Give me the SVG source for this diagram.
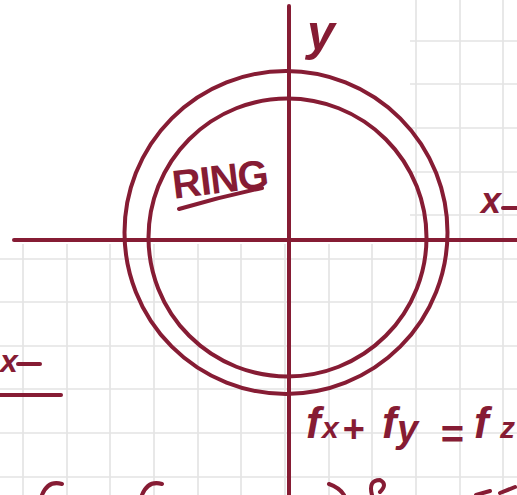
<svg xmlns="http://www.w3.org/2000/svg" width="517" height="495" viewBox="0 0 517 495">
<style>
.g{stroke:#e3e3e3;stroke-width:1.6;fill:none}
.ink{stroke:#861c34;stroke-width:4;fill:none;stroke-linecap:round;stroke-linejoin:round}
.t{fill:#861c34;font-family:"Liberation Sans",Arial,sans-serif;font-weight:bold}
</style>
<rect width="517" height="495" fill="#ffffff"/>
<g id="grid">
<path class="g" d="M23,244V495M67,244V495M110,244V495M154,244V495M198,244V495M241,244V495M285,244V495M329,244V495M372,244V495M416,0V495M460,0V495M503,0V495"/>
<path class="g" d="M410,41H517M410,84H517M410,128H517M410,172H517M410,215H517M0,259H517M0,302H517M0,346H517M0,389H517M0,433H517M0,477H517"/>
</g>
<g id="axes">
<line class="ink" x1="289" y1="6" x2="289" y2="495"/>
<line class="ink" x1="14" y1="240" x2="517" y2="240"/>
</g>
<g id="ring">
<circle class="ink" cx="286" cy="232.5" r="161.5"/>
<circle class="ink" cx="287.5" cy="237.5" r="139"/>
</g>
<g id="ring-label">
<text class="t" x="173" y="193" font-size="40" transform="rotate(-7 220 188)" letter-spacing="-1">RING</text>
<path class="ink" stroke-width="5" d="M179,209 Q220,197 262,188"/>
</g>
<g id="y-label">
<text class="t" x="307" y="50" font-size="50" font-style="italic">y</text>
</g>
<g id="x-label">
<text class="t" x="481" y="213" font-size="36" font-style="italic">x</text>
<path class="ink" d="M503,208 H517"/>
</g>
<g id="left-fraction">
<text class="t" x="0" y="372" font-size="32" font-style="italic">x</text>
<path class="ink" d="M18,364 H40"/>
<path class="ink" d="M0,395 H61"/>
</g>
<g id="equation">
<text class="t" font-size="44" font-style="italic"><tspan x="306" y="438">f</tspan><tspan x="322" y="438" font-size="30">x</tspan><tspan x="342" y="442" font-size="38">+</tspan><tspan x="382" y="438">f</tspan><tspan x="397" y="442" font-size="38">y</tspan><tspan x="440" y="448" font-size="40">=</tspan><tspan x="474" y="438">f</tspan><tspan x="500" y="438" font-size="30">z</tspan></text>
</g>
<g id="cut-off-bottom">
<path class="ink" d="M42,495 Q48,480 62,484"/>
<path class="ink" d="M142,495 Q148,480 162,484"/>
<path class="ink" d="M329,484 Q340,488 344,495"/>
<path class="ink" d="M372,495 Q368,480 380,480 Q388,484 380,492"/>
<path class="ink" d="M476,495 L490,491 M500,493 L515,487"/>
</g>
</svg>
